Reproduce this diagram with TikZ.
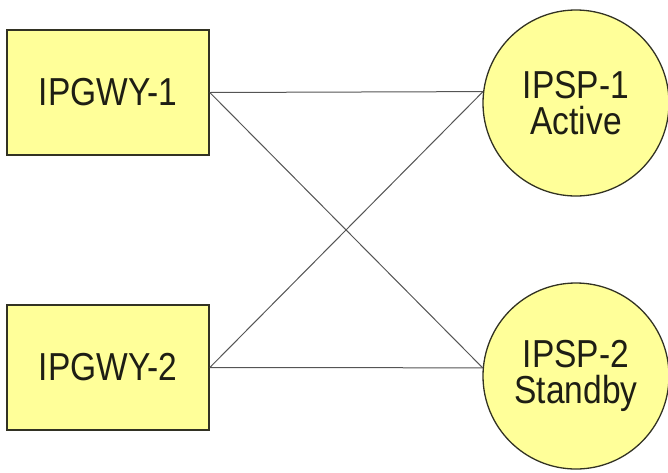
\documentclass[tikz,border=0pt]{standalone}
\usepackage{fontspec}
\setmainfont[FakeStretch=0.86]{Liberation Sans}
\definecolor{nodefill}{RGB}{255,255,153}
\definecolor{nodeline}{RGB}{50,50,35}
\definecolor{linkcol}{RGB}{85,85,85}
\definecolor{textcol}{RGB}{30,30,20}
\begin{document}
\begin{tikzpicture}[x=1pt,y=-1pt,
  gwbox/.style={draw=nodeline,fill=nodefill,line width=1.6pt,minimum width=202pt,minimum height=125pt,inner sep=0pt,text=textcol,font=\fontsize{39}{36}\selectfont},
  spcirc/.style={draw=nodeline,fill=nodefill,line width=1.3pt,circle,minimum size=186pt,inner sep=0pt,align=center,text=textcol,font=\fontsize{39}{36}\selectfont},
  link/.style={draw=linkcol,line width=1pt}]
\useasboundingbox (0,0) rectangle (668,472);
\node[gwbox] (g1) at (108,92.5) {IPGWY-1};
\node[gwbox] (g2) at (108,367.5) {IPGWY-2};
\node[spcirc] (s1) at (576,103) {IPSP-1\\Active};
\node[spcirc] (s2) at (576,376) {IPSP-2\\Standby};
\draw[link] (g1.east) -- (s1.173);
\draw[link] (g1.east) -- (s2.175);
\draw[link] (g2.east) -- (s1.173);
\draw[link] (g2.east) -- (s2.175);
\end{tikzpicture}
\end{document}
